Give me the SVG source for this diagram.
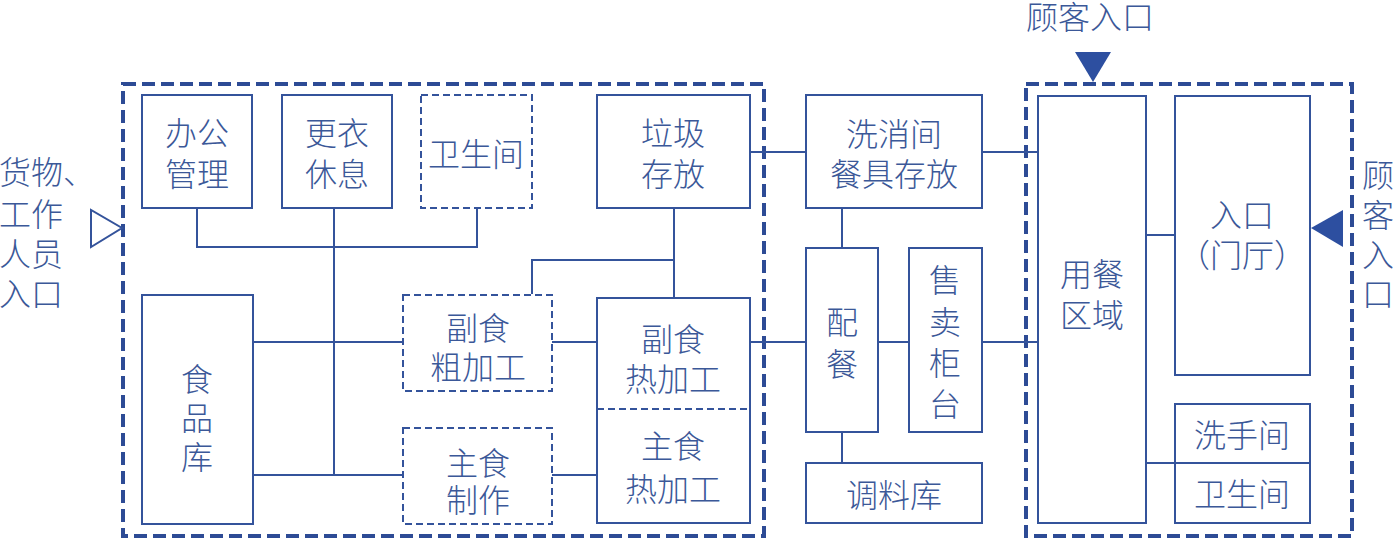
<svg xmlns="http://www.w3.org/2000/svg" width="1394" height="539" viewBox="0 0 1394 539">
<style>
.b{fill:#fff;stroke:#34539b;stroke-width:2}
.d{fill:#fff;stroke:#34539b;stroke-width:2;stroke-dasharray:7 4}
.z{fill:none;stroke:#2d4b95;stroke-width:4;stroke-dasharray:13 6}
.c{fill:none;stroke:#34539b;stroke-width:2}
text{font-family:"Noto Sans CJK SC","Noto Sans CJK JP",sans-serif;font-size:32px;font-weight:300;fill:#3b5898;text-anchor:middle;dominant-baseline:central}
.l{text-anchor:start}
</style>
<rect width="1394" height="539" fill="#fff"/>
<g id="zones">
<rect class="z" x="123" y="84" width="641" height="452"/>
<rect class="z" x="1026" y="84" width="326" height="452"/>
</g>
<g id="connectors">
<path class="c" d="M197 208V247H477V208M334 208V475M253 342H403M253 475H403M552 342H597M552 475H597M674 208V298M674 260H532V294M750 152H806M982 152H1038M750 342H806M878 342H909M982 342H1038M842 208V248M842 432V463M1146 235H1175M1146 463H1175"/>
</g>
<g id="entry-left">
<polygon points="91,210 91,247 122,228" fill="#fff" stroke="#34539b" stroke-width="2"/>
<text class="l" x="-1" y="170">货物、</text>
<text class="l" x="-1" y="212">工作</text>
<text class="l" x="-1" y="252">人员</text>
<text class="l" x="-1" y="292">入口</text>
</g>
<g id="entry-top">
<polygon points="1075,52 1111,52 1093,82" fill="#2d4fa0"/>
<text class="l" x="1026" y="15">顾客入口</text>
</g>
<g id="entry-right">
<polygon points="1343,210 1343,247 1311,228" fill="#2d4fa0"/>
<text class="l" x="1362" y="173">顾</text>
<text class="l" x="1362" y="213">客</text>
<text class="l" x="1362" y="253">入</text>
<text class="l" x="1362" y="292">口</text>
</g>
<g id="office"><rect class="b" x="142" y="95" width="110" height="113"/><text x="197" y="131">办公</text><text x="197" y="172">管理</text></g>
<g id="changing"><rect class="b" x="282" y="95" width="110" height="113"/><text x="337" y="131">更衣</text><text x="337" y="172">休息</text></g>
<g id="wc1"><rect class="d" x="421" y="95" width="111" height="113"/><text x="476" y="152">卫生间</text></g>
<g id="garbage"><rect class="b" x="597" y="95" width="153" height="113"/><text x="673" y="131">垃圾</text><text x="673" y="172">存放</text></g>
<g id="foodstore"><rect class="b" x="142" y="295" width="111" height="229"/><text x="197" y="377">食</text><text x="197" y="416">品</text><text x="197" y="455">库</text></g>
<g id="rough"><rect class="d" x="403" y="295" width="149" height="96"/><text x="478" y="326">副食</text><text x="478" y="365">粗加工</text></g>
<g id="staple"><rect class="d" x="403" y="428" width="149" height="96"/><text x="478" y="461">主食</text><text x="478" y="498">制作</text></g>
<g id="hot"><rect class="b" x="597" y="298" width="153" height="225"/><line x1="597" y1="409" x2="750" y2="409" stroke="#34539b" stroke-width="2" stroke-dasharray="7 4"/><text x="673" y="337">副食</text><text x="673" y="377">热加工</text><text x="673" y="444">主食</text><text x="673" y="487">热加工</text></g>
<g id="wash"><rect class="b" x="806" y="95" width="176" height="113"/><text x="894" y="132">洗消间</text><text x="894" y="172">餐具存放</text></g>
<g id="serve"><rect class="b" x="806" y="248" width="72" height="184"/><text x="842" y="320">配</text><text x="842" y="362">餐</text></g>
<g id="counter"><rect class="b" x="909" y="248" width="73" height="184"/><text x="945" y="278">售</text><text x="945" y="320">卖</text><text x="945" y="361">柜</text><text x="945" y="402">台</text></g>
<g id="seasoning"><rect class="b" x="806" y="463" width="176" height="60"/><text x="894" y="493">调料库</text></g>
<g id="dining"><rect class="b" x="1038" y="96" width="108" height="427"/><text x="1092" y="272">用餐</text><text x="1092" y="313">区域</text></g>
<g id="lobby"><rect class="b" x="1175" y="96" width="135" height="279"/><text x="1242" y="213">入口</text><text x="1242" y="253">（门厅）</text></g>
<g id="washroom"><rect class="b" x="1175" y="404" width="135" height="59"/><text x="1242" y="433">洗手间</text></g>
<g id="wc2"><rect class="b" x="1175" y="463" width="135" height="60"/><text x="1242" y="492">卫生间</text></g>
</svg>
